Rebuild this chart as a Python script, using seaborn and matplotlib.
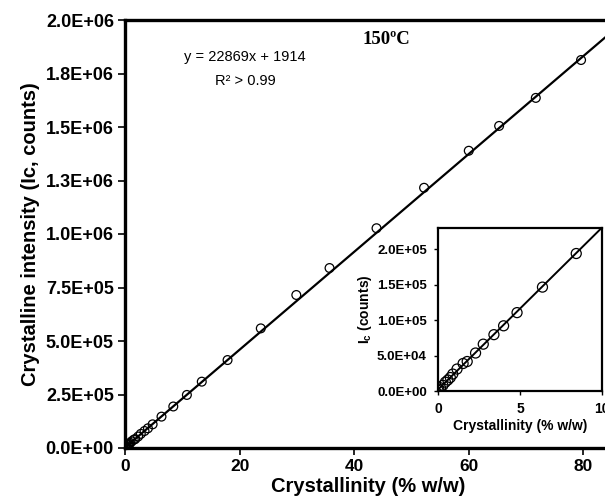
import numpy as np
import pandas as pd
import matplotlib
matplotlib.use("Agg")
import matplotlib.pyplot as plt
import seaborn as sns

# ---- data ----
crystallinity = [0.0, 0.05, 0.15, 0.3, 0.45, 0.6, 0.75, 0.9, 1.16, 1.53, 1.78, 2.29,
                 2.76, 3.41, 4.0, 4.82, 6.37, 8.43, 10.8, 13.4, 17.9, 23.7, 29.9,
                 35.7, 43.9, 52.2, 60.0, 65.3, 71.7, 79.6]
intensity = [1000, 2500, 4500, 8000, 12500, 15500, 19000, 23900, 31000, 38800, 41600,
             53600, 66100, 79500, 92000, 110600, 146600, 194000, 248000, 310000,
             411000, 559000, 715000, 841000, 1027000, 1216000, 1389000, 1505000,
             1636000, 1813000]
slope = 22869
intercept = 1914
fit_x_main = [0, 85]
fit_x_inset = [0, 10]

main_yticks = [0, 250000, 500000, 750000, 1000000, 1250000, 1500000, 1750000, 2000000]
main_ytick_labels = ["0.0E+00", "2.5E+05", "5.0E+05", "7.5E+05", "1.0E+06",
                     "1.3E+06", "1.5E+06", "1.8E+06", "2.0E+06"]
main_xticks = [0, 20, 40, 60, 80]
inset_yticks = [0, 50000, 100000, 150000, 200000]
inset_ytick_labels = ["0.0E+00", "5.0E+04", "1.0E+05", "1.5E+05", "2.0E+05"]
inset_xticks = [0, 5, 10]

df = pd.DataFrame({"x": crystallinity, "y": intensity})
fit_main = pd.DataFrame({"x": fit_x_main, "y": [slope * v + intercept for v in fit_x_main]})
fit_inset = pd.DataFrame({"x": fit_x_inset, "y": [slope * v + intercept for v in fit_x_inset]})

sns.set_theme(style="white")
plt.rcParams["font.family"] = ["Liberation Sans", "DejaVu Sans"]
plt.rcParams["mathtext.fontset"] = "custom"
plt.rcParams["mathtext.rm"] = "Liberation Sans"
plt.rcParams["mathtext.bf"] = "Liberation Sans:bold"
plt.rcParams["mathtext.it"] = "Liberation Sans:italic"
plt.rcParams["text.color"] = "black"
plt.rcParams["axes.labelcolor"] = "black"
plt.rcParams["xtick.color"] = "black"
plt.rcParams["ytick.color"] = "black"

fig = plt.figure(figsize=(6.05, 5.04), dpi=100)
W, H = 605, 504

def rect(l, t, r, b):
    return [l / W, (H - b) / H, (r - l) / W, (b - t) / H]

ax = fig.add_axes(rect(125, 20, 612, 448))
sns.lineplot(data=fit_main, x="x", y="y", ax=ax, color="black", linewidth=1.6)
sns.scatterplot(data=df, x="x", y="y", ax=ax, marker="o", s=40,
                facecolor="none", edgecolor="black", linewidth=0.9, zorder=3)
ax.set_xlim(0, 85)
ax.set_ylim(0, 2000000)
ax.set_xticks(main_xticks)
ax.set_xticklabels([str(v) for v in main_xticks], fontsize=12.5, fontweight="bold")
ax.set_yticks(main_yticks)
ax.set_yticklabels(main_ytick_labels, fontsize=13, fontweight="bold")
ax.tick_params(axis="both", direction="out", length=5, width=1.2, color="black",
               labelcolor="black", left=True, bottom=True, pad=3)
for s in ["left", "bottom", "top"]:
    ax.spines[s].set_linewidth(2.4)
    ax.spines[s].set_color("black")
ax.spines["right"].set_visible(False)
ax.set_xlabel("Crystallinity (% w/w)", fontsize=14.5, fontweight="bold", labelpad=2,
              color="black")
ax.set_ylabel("Crystalline intensity (Ic, counts)", fontsize=14.5, fontweight="bold",
              labelpad=4, color="black")

fig.text(245 / W, 1 - 57 / H, "y = 22869x + 1914", fontsize=10.5, ha="center",
         va="center", color="black")
fig.text(245 / W, 1 - 81 / H, "R² > 0.99", fontsize=10.5, ha="center", va="center",
         color="black")
fig.text(362 / W, 1 - 40 / H, "150ºC", fontsize=13.5, fontweight="bold",
         family="Liberation Serif", ha="left", va="center", color="black")

# ---- inset ----
axi = fig.add_axes(rect(438, 228, 602, 391))
sns.lineplot(data=fit_inset, x="x", y="y", ax=axi, color="black", linewidth=1.4)
sns.scatterplot(data=df[df["x"] <= 10], x="x", y="y", ax=axi, marker="o", s=52,
                facecolor="none", edgecolor="black", linewidth=0.9, zorder=3)
axi.set_xlim(0, 10)
axi.set_ylim(0, 230000)
axi.set_xticks(inset_xticks)
axi.set_xticklabels([str(v) for v in inset_xticks], fontsize=10, fontweight="bold")
axi.set_yticks(inset_yticks)
axi.set_yticklabels(inset_ytick_labels, fontsize=9.5, fontweight="bold")
axi.tick_params(axis="both", direction="out", length=3, width=1, color="black",
                labelcolor="black", left=True, bottom=True, pad=5)
for s in axi.spines.values():
    s.set_linewidth(1.6)
    s.set_color("black")
axi.set_xlabel("Crystallinity (% w/w)", fontsize=10, fontweight="bold", labelpad=2,
               color="black")
axi.set_ylabel(r"$\mathbf{I_c}$ (counts)", fontsize=10, fontweight="bold", labelpad=2,
               color="black")
axi.set_facecolor("white")

fig.savefig("out.png", dpi=100)
